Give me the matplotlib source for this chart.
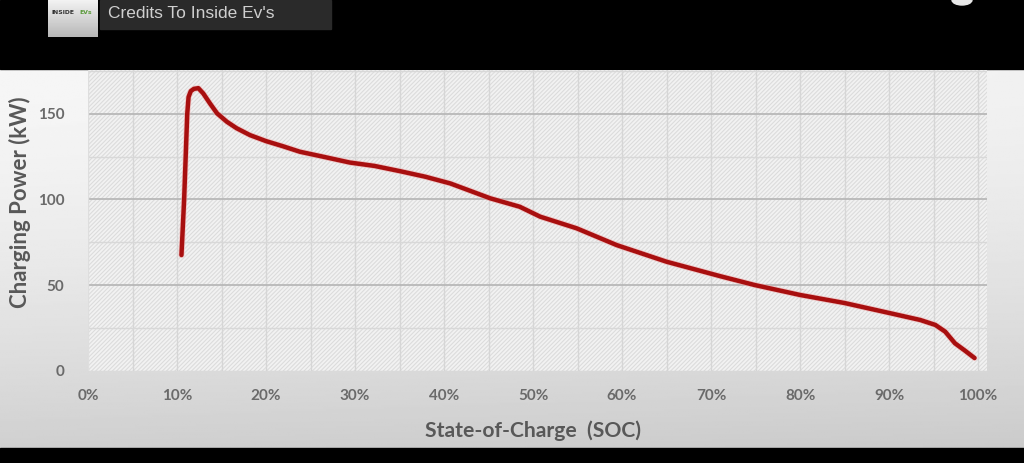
import numpy as np
import matplotlib
matplotlib.use("Agg")
import matplotlib.pyplot as plt
from matplotlib.patches import Rectangle, Ellipse

# ---- data ----
soc = [10.5, 10.8, 11.15, 11.3, 11.55, 11.9, 12.4, 12.95, 13.7, 14.5, 15.6, 16.7,
       18.2, 20.0, 21.9, 23.8, 26.5, 29.4, 32.2, 35.1, 37.9, 40.7, 45.2, 48.5,
       50.8, 54.9, 59.4, 65.0, 71.0, 74.9, 80.0, 85.0, 90.0, 93.5, 95.2, 96.3,
       97.4, 98.5, 99.6]
power_kw = [67.5, 100, 150, 159.8, 163.2, 164.5, 164.9, 161.8, 156, 150.2, 145.3, 141.5,
            137.5, 134, 131, 127.8, 124.8, 121.5, 119.5, 116.4, 113.2, 109.3, 100.6, 95.7,
            89.9, 83.1, 73.3, 63.6, 55.2, 50, 44.2, 39.5, 33.7, 29.6, 26.7, 22.8,
            16, 11.8, 7.4]
x_ticks = [0, 10, 20, 30, 40, 50, 60, 70, 80, 90, 100]
x_tick_labels = ["0%", "10%", "20%", "30%", "40%", "50%", "60%", "70%", "80%", "90%", "100%"]
y_ticks = [0, 50, 100, 150]
y_tick_labels = ["0", "50", "100", "150"]
x_label = "State-of-Charge  (SOC)"
y_label = "Charging Power (kW)"
credit_text = "Credits To Inside Ev's"

plt.rcParams['hatch.linewidth'] = 0.8
W, H = 1024, 463
fig = plt.figure(figsize=(W / 100, H / 100), dpi=100)

# ---- background (frame in pixel coordinates) ----
bg = fig.add_axes([0, 0, 1, 1], zorder=-10)
yy = np.linspace(0, 1, 200)[:, None]
xx = np.linspace(0, 1, 300)[None, :]
grad = 0.965 - 0.15 * yy ** 1.6 - 0.02 * xx
bg.imshow(grad, cmap="gray", vmin=0, vmax=1, extent=[0, W, 448, 69], aspect="auto", zorder=0)
bg.add_patch(Rectangle((0, 0), W, 69, color="black", zorder=1))
bg.add_patch(Rectangle((0, 448), W, H - 448, color="black", zorder=1))
# credit banner
logo = np.linspace(0.95, 0.72, 50)[:, None] * np.ones((1, 10))
bg.imshow(logo, cmap="gray", vmin=0, vmax=1, extent=[48, 98, 37, 0], aspect="auto", zorder=2)
bg.text(52, 13, "INSIDE", color="#333333", fontsize=4.4, fontweight="bold",
        va="center", ha="left", family="DejaVu Sans", zorder=3)
bg.text(79, 13, "EVs", color="#5a9a3a", fontsize=4.4, fontweight="bold",
        va="center", ha="left", family="DejaVu Sans", zorder=3)
bg.add_patch(Rectangle((100, 0), 231, 29, color="#2a2a2a", zorder=2))
bg.text(108, 13.5, credit_text, color="#cfcfcf", fontsize=12.5,
        va="center", ha="left", family="Liberation Sans", zorder=3)
bg.add_patch(Ellipse((962, 0), 20, 10, color="#e8e8e8", zorder=2))
bg.set_xlim(0, W)
bg.set_ylim(H, 0)
bg.axis("off")

# ---- main chart ----
ax = fig.add_axes([88 / W, 1 - 370.7 / H, (987 - 88) / W, (370.7 - 70) / H])
ax.set_facecolor("#f2f2f2")
ax.add_patch(Rectangle((0, 0), 1, 1, transform=ax.transAxes, facecolor="none",
                       edgecolor="#dcdcdc", hatch="////////", lw=0, zorder=0))
ax.set_xlim(0, 101)
ax.set_ylim(0, 175.5)

# grid
for v in np.arange(5, 101, 5):
    ax.axvline(v, color="#d6d6d6", lw=1.0, zorder=1)
for v in [25, 75, 125, 175]:
    ax.axhline(v, color="#d8d8d8", lw=1.0, zorder=1)
for v in [50, 100, 150]:
    ax.axhline(v, color="#b8b8b8", lw=1.3, zorder=1)
ax.axhline(0, color="#d0d0d0", lw=1.0, zorder=1)
ax.axvline(0, color="#dedede", lw=1.0, zorder=1)

ax.plot(soc, power_kw, color="#f0b0b0", lw=4.4, solid_joinstyle="round",
        solid_capstyle="round", zorder=4, alpha=0.6)
ax.plot(soc, power_kw, color="#a80f0f", lw=3.2, solid_joinstyle="round",
        solid_capstyle="round", zorder=5)

for s in ax.spines.values():
    s.set_visible(False)
ax.set_xticks(x_ticks)
ax.set_xticklabels(x_tick_labels)
ax.set_yticks(y_ticks)
ax.set_yticklabels(y_tick_labels)
ax.tick_params(length=0, colors="#6a6a6a", labelsize=11)
ax.tick_params(axis="x", pad=13)
ax.tick_params(axis="y", pad=17)
for lab in ax.get_xticklabels() + ax.get_yticklabels():
    lab.set_fontweight("bold")
    lab.set_family("Lato")
ax.set_xlabel(x_label, fontsize=15.2, fontweight="bold", color="#585858",
              family="Lato", va="center")
ax.set_ylabel(y_label, fontsize=16, fontweight="bold", color="#585858",
              family="Lato", va="center")
ax.xaxis.set_label_coords(0.495, -0.2)
ax.yaxis.set_label_coords(-0.0756, 0.561)

fig.savefig("out.png", dpi=100)
